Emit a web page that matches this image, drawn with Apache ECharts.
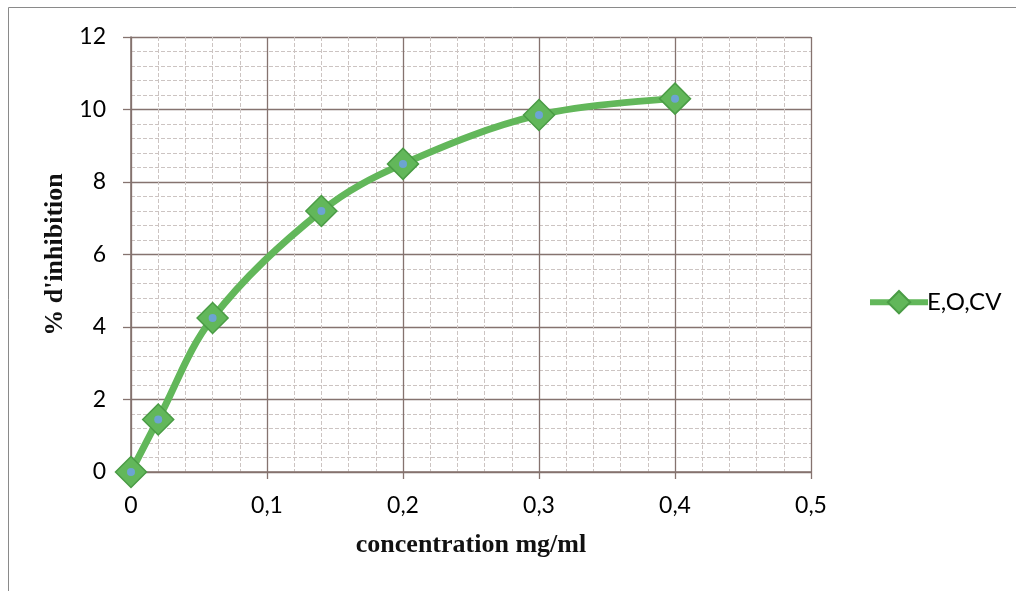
<!DOCTYPE html>
<html>
<head>
<meta charset="utf-8">
<script src="https://cdn.jsdelivr.net/npm/echarts@6/dist/echarts.min.js"></script>
<style>
  html, body { margin: 0; padding: 0; background: #ffffff; }
  #chart { width: 1016px; height: 591px; }
</style>
</head>
<body>
<div id="chart"></div>
<script>
// Concentration (mg/ml) and inhibition (%) for the essential oil
const concentrations = [0, 0.02, 0.06, 0.14, 0.2, 0.3, 0.4];
const inhibition = [0, 1.45, 4.25, 7.2, 8.5, 9.85, 10.3];
const seriesName = 'E,O,CV';
const xAxisTitle = 'concentration mg/ml';
const yAxisTitle = "% d'inhibition";

const points = concentrations.map((c, i) => [c, inhibition[i]]);

const majorGrid = '#85736f';
const minorGrid = '#ccc4c2';
const green = '#62b75a';
const greenDark = '#4a9c45';

const chart = echarts.init(document.getElementById('chart'));
chart.setOption({
  animation: false,
  backgroundColor: '#ffffff',
  graphic: [{
    type: 'rect',
    shape: { x: 8.5, y: 7.5, width: 1020, height: 600 },
    style: { fill: 'none', stroke: '#8a8a8a', lineWidth: 1 },
    silent: true
  }],
  grid: { left: 131, right: 205, top: 37, bottom: 119 },
  legend: {
    data: [seriesName],
    orient: 'vertical',
    left: 862,
    top: 285,
    itemWidth: 58,
    itemHeight: 28,
    itemGap: 4,
    lineStyle: { width: 6 },
    textStyle: { fontFamily: 'Lato', fontSize: 24, color: '#000', padding: [0, 0, 0, -6] }
  },
  xAxis: {
    type: 'value',
    min: 0, max: 0.5, interval: 0.1,
    name: xAxisTitle,
    nameLocation: 'middle',
    nameGap: 60,
    nameTextStyle: { fontFamily: 'Liberation Serif', fontWeight: 'bold', fontSize: 26, color: '#111' },
    axisLine: { show: true, lineStyle: { color: majorGrid, width: 1.6 } },
    axisTick: { show: true, length: 7, lineStyle: { color: majorGrid, width: 1.3 } },
    axisLabel: {
      margin: 22,
      fontFamily: 'Lato', fontSize: 23, color: '#000',
      formatter: v => String(Math.round(v * 10) / 10).replace('.', ',')
    },
    splitLine: { show: true, lineStyle: { color: majorGrid, width: 1.3 } },
    minorTick: { show: false, splitNumber: 5 },
    minorSplitLine: { show: true, lineStyle: { color: minorGrid, width: 1, type: [4, 2] } }
  },
  yAxis: {
    type: 'value',
    min: 0, max: 12, interval: 2,
    name: yAxisTitle,
    nameLocation: 'middle',
    nameGap: 56,
    nameTextStyle: { fontFamily: 'Liberation Serif', fontWeight: 'bold', fontSize: 26, color: '#111' },
    axisLine: { show: true, lineStyle: { color: majorGrid, width: 1.6 } },
    axisTick: { show: true, length: 8, lineStyle: { color: majorGrid, width: 1.3 } },
    axisLabel: { margin: 25, fontFamily: 'Lato', fontSize: 23, color: '#000' },
    splitLine: { show: true, lineStyle: { color: majorGrid, width: 1.3 } },
    minorTick: { show: false, splitNumber: 5 },
    minorSplitLine: { show: true, lineStyle: { color: minorGrid, width: 1, type: [4, 2] } }
  },
  series: [
    {
      name: seriesName,
      type: 'line',
      data: points,
      smooth: 0.35,
      symbol: 'diamond',
      symbolSize: 31,
      lineStyle: { color: green, width: 7 },
      itemStyle: { color: green, borderColor: greenDark, borderWidth: 1.5 },
      z: 2
    },
    {
      // small blue centre dot drawn on each diamond
      name: 'centre',
      type: 'scatter',
      data: points,
      symbol: 'circle',
      symbolSize: 8,
      itemStyle: { color: '#6f9ff0' },
      silent: true,
      z: 3
    }
  ]
});
</script>
</body>
</html>
